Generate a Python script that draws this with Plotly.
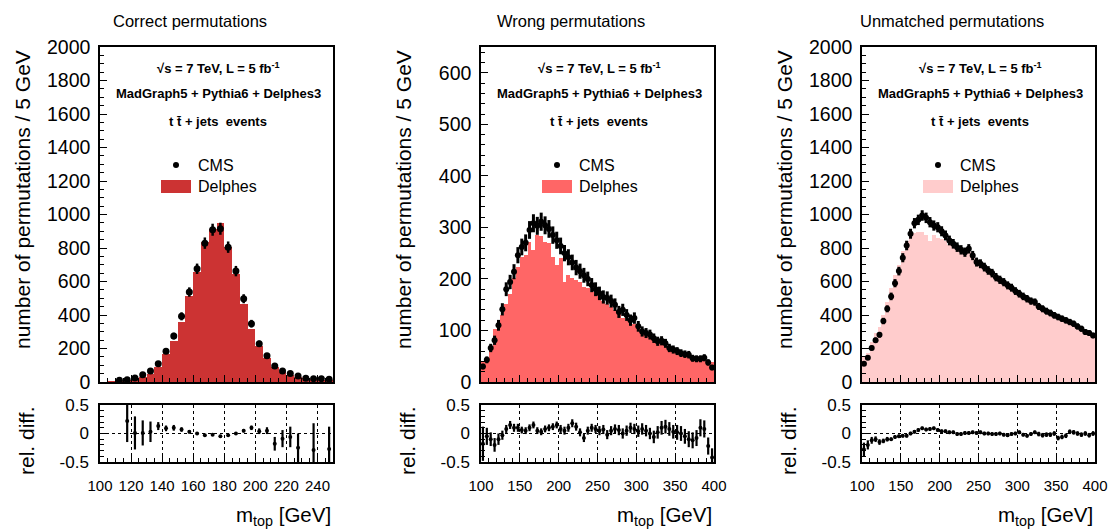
import plotly.graph_objects as go
import numpy as np

W, H = 1108, 531
FONT = "Liberation Sans, Arial, Helvetica, sans-serif"

# ---------------- data ----------------
bin_width = 5.0
correct_range = [100, 250]
wide_range = [100, 400]

correct_delphes = [0, 2, 5, 10, 15, 30, 50, 92, 165, 242, 358, 511, 656, 835, 915,
                   948, 805, 646, 467, 314, 215, 143, 89, 60, 40, 30, 22, 18, 14, 10]
correct_cms = [None, None, 10, 14, 24, 44, 66, 109, 183, 274, 392, 537, 676, 829, 909,
               915, 805, 662, 497, 348, 229, 157, 95, 66, 50, 36, 22, 20, 20, 16]
correct_cms_err = [0, 0, 4, 5, 6, 8, 10, 12, 16, 20, 24, 28, 31, 34, 36,
                   36, 34, 31, 27, 23, 18, 15, 12, 10, 8, 7, 6, 5, 5, 5]
correct_rel = [None, None, None, 0.22, 0.01, 0.01, 0.03, 0.13, 0.09, 0.10, 0.07, 0.03,
               0.00, -0.03, -0.02, -0.05, -0.03, 0.00, 0.05, 0.10, 0.04, 0.05, -0.18,
               -0.09, -0.06, -0.25, None, -0.29, None, -0.27]
correct_rel_err = [0, 0, 0, 0.37, 0.29, 0.22, 0.18, 0.07, 0.05, 0.05, 0.04, 0.03, 0.02,
                   0.02, 0.02, 0.02, 0.02, 0.02, 0.03, 0.04, 0.05, 0.06, 0.12, 0.15, 0.18,
                   0.25, 0, 0.47, 0, 0.39]

wrong_delphes = [39, 45, 68, 102, 104, 130, 152, 170, 201, 224, 242, 246, 272, 257, 285,
                 283, 272, 269, 242, 227, 240, 194, 207, 201, 198, 194, 185, 183, 175, 170,
                 163, 158, 152, 146, 140, 132, 125, 120, 115, 112, 105, 97, 92, 88, 82,
                 78, 74, 70, 66, 62, 58, 55, 52, 50, 48, 46, 45, 44, 42, 38]
wrong_cms = [30, 43, 66, 81, 110, 141, 180, 194, 214, 246, 262, 270, 295, 308, 303,
             311, 304, 297, 285, 275, 264, 250, 242, 232, 222, 215, 207, 200, 188, 180,
             172, 165, 163, 157, 150, 136, 140, 130, 120, 124, 108, 98, 95, 92, 85,
             79, 80, 75, 66, 63, 60, 56, 54, 53, 46, 45, 45, 47, 38, 28]
wrong_cms_err = [5.5, 6.6, 8.1, 9.0, 10.5, 11.9, 13.4, 13.9, 14.6, 15.7, 16.2, 16.4, 17.2, 17.5, 17.4,
                 17.6, 17.4, 17.2, 16.9, 16.6, 16.2, 15.8, 15.6, 15.2, 14.9, 14.7, 14.4, 14.1, 13.7, 13.4,
                 13.1, 12.8, 12.8, 12.5, 12.2, 11.7, 11.8, 11.4, 11.0, 11.1, 10.4, 9.9, 9.7, 9.6, 9.2,
                 8.9, 8.9, 8.7, 8.1, 7.9, 7.7, 7.5, 7.3, 7.3, 6.8, 6.7, 6.7, 6.9, 6.2, 5.3]
wrong_rel = [-0.18, -0.05, -0.10, -0.20, -0.10, -0.03, 0.08, 0.15, 0.10, 0.10, 0.06, 0.05,
             0.10, 0.15, 0.05, 0.03, 0.08, 0.10, 0.12, 0.15, 0.08, 0.05, 0.10, 0.18, 0.12,
             0.02, -0.08, 0.05, 0.10, 0.08, 0.05, 0.07, -0.02, 0.05, 0.08, 0.06, 0.00, 0.05,
             0.10, 0.08, 0.04, 0.08, 0.05, 0.00, -0.06, 0.02, 0.10, 0.12, 0.08, 0.03, 0.02,
             0.00, -0.05, -0.10, -0.12, -0.08, 0.10, 0.08, -0.22, -0.42]
wrong_rel_err = [0.30, 0.15, 0.12, 0.12, 0.10, 0.08, 0.07, 0.07, 0.07, 0.07, 0.06, 0.06,
                 0.06, 0.06, 0.06, 0.06, 0.06, 0.06, 0.06, 0.06, 0.07, 0.07, 0.07, 0.07, 0.07,
                 0.07, 0.07, 0.07, 0.07, 0.07, 0.08, 0.08, 0.08, 0.08, 0.08, 0.09, 0.09, 0.09,
                 0.09, 0.09, 0.10, 0.10, 0.10, 0.10, 0.11, 0.11, 0.12, 0.12, 0.12, 0.12, 0.13,
                 0.13, 0.13, 0.14, 0.14, 0.14, 0.15, 0.15, 0.15, 0.16]

unmatched_delphes = [150, 175, 240, 290, 330, 400, 480, 560, 640, 700, 780, 840, 880, 890, 895,
                     895, 875, 840, 880, 860, 855, 840, 820, 810, 800, 790, 780, 775, 750, 720,
                     705, 690, 670, 650, 625, 610, 598, 580, 560, 545, 530, 510, 495, 480, 470,
                     455, 440, 425, 412, 398, 388, 378, 368, 360, 350, 335, 320, 305, 295, 282]
unmatched_cms = [109, 145, 203, 249, 282, 364, 437, 511, 590, 662, 742, 815, 885, 948, 968,
                 994, 980, 954, 934, 924, 900, 875, 845, 825, 805, 789, 775, 795, 755, 716,
                 706, 686, 666, 650, 626, 610, 596, 577, 563, 543, 527, 511, 497, 483, 477,
                 451, 437, 423, 412, 398, 388, 378, 368, 358, 348, 332, 318, 298, 292, 278]
unmatched_cms_err = [10.4, 12.0, 14.2, 15.8, 16.8, 19.1, 20.9, 22.6, 24.3, 25.7, 27.2, 28.5, 29.7, 30.8, 31.1,
                     31.5, 31.3, 30.9, 30.6, 30.4, 30.0, 29.6, 29.1, 28.7, 28.4, 28.1, 27.8, 28.2, 27.5, 26.8,
                     26.6, 26.2, 25.8, 25.5, 25.0, 24.7, 24.4, 24.0, 23.7, 23.3, 23.0, 22.6, 22.3, 22.0, 21.8,
                     21.2, 20.9, 20.6, 20.3, 20.0, 19.7, 19.4, 19.2, 18.9, 18.7, 18.2, 17.8, 17.3, 17.1, 16.7]
unmatched_rel = [-0.28, -0.20, -0.12, -0.10, -0.15, -0.13, -0.10, -0.10, -0.06, -0.05, -0.04, -0.04,
                 0.00, 0.03, 0.06, 0.09, 0.07, 0.08, 0.09, 0.06, 0.04, 0.04, 0.02, 0.02, -0.01,
                 -0.01, 0.01, 0.01, 0.02, 0.01, 0.02, 0.00, 0.00, -0.01, -0.01, 0.00, -0.02, -0.03,
                 -0.01, 0.00, 0.02, -0.02, -0.04, -0.01, 0.02, -0.01, -0.03, -0.02, -0.02, 0.00,
                 -0.08, -0.06, -0.04, 0.03, 0.02, 0.00, -0.02, 0.00, -0.03, 0.00]
unmatched_rel_err = [0.12, 0.08, 0.06, 0.05, 0.05, 0.04, 0.04, 0.03, 0.03, 0.03, 0.03, 0.03,
                     0.03, 0.03, 0.03, 0.03, 0.03, 0.03, 0.03, 0.03, 0.03, 0.03, 0.03, 0.03, 0.03,
                     0.03, 0.03, 0.03, 0.03, 0.03, 0.03, 0.03, 0.03, 0.03, 0.03, 0.03, 0.03, 0.03,
                     0.03, 0.03, 0.03, 0.03, 0.03, 0.03, 0.03, 0.04, 0.04, 0.04, 0.04, 0.04, 0.04,
                     0.04, 0.04, 0.04, 0.04, 0.04, 0.04, 0.04, 0.04, 0.04]

panel_titles = ["Correct permutations", "Wrong permutations", "Unmatched permutations"]
hist_colors = ["#cc3333", "#ff6666", "#ffcccc"]
ymax = [2000, 650, 2000]
y_dtick = [200, 100, 200]
y_minor = [50, 20, 50]
x_dtick = [20, 50, 50]
x_minor = [5, 10, 10]
info_lines = ["<b>√s = 7 TeV, L = 5 fb<sup>-1</sup></b>",
              "<b>MadGraph5 + Pythia6 + Delphes3</b>",
              "<b>t t\u0304 + jets  events</b>"]

panels = [
    (correct_range, correct_delphes, correct_cms, correct_cms_err, correct_rel, correct_rel_err),
    (wide_range, wrong_delphes, wrong_cms, wrong_cms_err, wrong_rel, wrong_rel_err),
    (wide_range, unmatched_delphes, unmatched_cms, unmatched_cms_err, unmatched_rel, unmatched_rel_err),
]

# ---------------- layout geometry (pixels) ----------------
panel_px = [(100, 333), (481, 714), (862, 1095)]
main_px = (47, 382)
ratio_px = (405, 462)


def xp(v):
    return v / W


def yp(v):
    return 1 - v / H


fig = go.Figure()
layout = dict(
    template="none",
    width=W, height=H, margin=dict(l=0, r=0, t=0, b=0, pad=0, autoexpand=False),
    paper_bgcolor="white", plot_bgcolor="white",
    showlegend=False, bargap=0, barmode="overlay",
    font=dict(family=FONT, color="black"),
)
annotations = []
shapes = []

for k, (rng, delphes, cms, cms_err, rel, rel_err) in enumerate(panels):
    n_main = 2 * k + 1
    n_ratio = 2 * k + 2
    xm, ym = f"x{n_main}", f"y{n_main}"
    xr, yr = f"x{n_ratio}", f"y{n_ratio}"
    centers = np.arange(rng[0], rng[1], bin_width) + bin_width / 2

    fig.add_trace(go.Bar(x=centers, y=delphes, width=bin_width, xaxis=xm, yaxis=ym,
                         marker=dict(color=hist_colors[k], line=dict(width=0)),
                         name="Delphes"))
    fig.add_trace(go.Scatter(x=centers, y=cms, mode="markers", xaxis=xm, yaxis=ym,
                             marker=dict(color="black", size=7 if k == 0 else 6),
                             error_y=dict(type="data", array=cms_err, color="black",
                                          thickness=2.5 if k == 0 else 3, width=0),
                             name="CMS"))
    fig.add_trace(go.Scatter(x=centers, y=rel, mode="markers", xaxis=xr, yaxis=yr,
                             marker=dict(color="black", size=4),
                             error_y=dict(type="data", array=rel_err, color="black",
                                          thickness=2.2, width=0),
                             name="rel. diff."))

    dom = [xp(panel_px[k][0]), xp(panel_px[k][1])]
    base = dict(showline=True, linecolor="black", linewidth=1.5, mirror=True, automargin=False,
                ticks="inside", tickcolor="black", tickwidth=1.2, zeroline=False)
    key = "" if n_main == 1 else str(n_main)
    layout["xaxis" + key] = dict(base, domain=dom, range=rng, anchor=ym, dtick=x_dtick[k],
                                 tick0=0, ticklen=7, showticklabels=False, showgrid=False,
                                 minor=dict(dtick=x_minor[k], ticks="inside", ticklen=4,
                                            tickcolor="black", tickwidth=1, showgrid=False))
    layout["yaxis" + key] = dict(base, domain=[yp(main_px[1]), yp(main_px[0])], range=[0, ymax[k]],
                                 anchor=xm, dtick=y_dtick[k], tick0=0, ticklen=7, showgrid=False,
                                 tickfont=dict(family=FONT, size=19.5, color="black"),
                                 ticklabelstandoff=4,
                                 minor=dict(dtick=y_minor[k], ticks="inside", ticklen=4,
                                            tickcolor="black", tickwidth=1, showgrid=False))
    layout["xaxis" + str(n_ratio)] = dict(base, domain=dom, range=rng, anchor=yr, dtick=x_dtick[k],
                                          tick0=0, ticklen=7, showgrid=True, gridcolor="black",
                                          griddash="dot", gridwidth=1.2,
                                          tickfont=dict(family=FONT, size=15, color="black"),
                                          ticklabelstandoff=9,
                                          minor=dict(dtick=x_minor[k], ticks="inside", ticklen=4,
                                                     tickcolor="black", tickwidth=1, showgrid=False))
    layout["yaxis" + str(n_ratio)] = dict(base, domain=[yp(ratio_px[1]), yp(ratio_px[0])],
                                          range=[-0.5, 0.5], anchor=xr,
                                          tickvals=[-0.5, 0, 0.5], ticktext=["-0.5", "0", "0.5"],
                                          ticklen=7, showgrid=True, gridcolor="black",
                                          griddash="dot", gridwidth=1.2,
                                          tickfont=dict(family=FONT, size=17, color="black"),
                                          ticklabelstandoff=6,
                                          minor=dict(dtick=0.1, ticks="inside", ticklen=4,
                                                     tickcolor="black", tickwidth=1, showgrid=False))

    left, right = panel_px[k]
    cx = (left + right) / 2 + 1.5
    # panel title
    annotations.append(dict(text=panel_titles[k], x=xp(left + 90), y=yp(21), xref="paper", yref="paper",
                            showarrow=False, xanchor="center", yanchor="middle",
                            font=dict(family=FONT, size=16.5, color="black")))
    # info text
    for txt, yy in zip(info_lines, [68, 94, 122]):
        annotations.append(dict(text=txt, x=xp(cx), y=yp(yy), xref="paper", yref="paper",
                                showarrow=False, xanchor="center", yanchor="middle",
                                font=dict(family=FONT, size=13, color="black")))
    # legend
    shapes.append(dict(type="circle", xref="paper", yref="paper",
                       x0=xp(left + 73), x1=xp(left + 79), y0=yp(168), y1=yp(162),
                       fillcolor="black", line=dict(width=0)))
    shapes.append(dict(type="rect", xref="paper", yref="paper",
                       x0=xp(left + 61), x1=xp(left + 91), y0=yp(193), y1=yp(180),
                       fillcolor=hist_colors[k], line=dict(width=0)))
    annotations.append(dict(text="CMS", x=xp(left + 96), y=yp(165), xref="paper", yref="paper",
                            showarrow=False, xanchor="left", yanchor="middle",
                            font=dict(family=FONT, size=16, color="black")))
    annotations.append(dict(text="Delphes", x=xp(left + 96), y=yp(186), xref="paper", yref="paper",
                            showarrow=False, xanchor="left", yanchor="middle",
                            font=dict(family=FONT, size=16, color="black")))
    # axis titles
    annotations.append(dict(text="number of permutations / 5 GeV", x=xp(left - 77), y=yp(200),
                            xref="paper", yref="paper", showarrow=False, textangle=-90,
                            xanchor="center", yanchor="middle",
                            font=dict(family=FONT, size=21, color="black")))
    annotations.append(dict(text="rel. diff.", x=xp(left - 74), y=yp(441),
                            xref="paper", yref="paper", showarrow=False, textangle=-90,
                            xanchor="center", yanchor="middle",
                            font=dict(family=FONT, size=21, color="black")))
    annotations.append(dict(text="m<sub>top</sub> [GeV]", x=xp(right), y=yp(531),
                            xref="paper", yref="paper", showarrow=False,
                            xanchor="right", yanchor="bottom",
                            font=dict(family=FONT, size=20.5, color="black")))

layout["annotations"] = annotations
layout["shapes"] = shapes
fig.update_layout(**layout)
fig.write_html("out.html")
